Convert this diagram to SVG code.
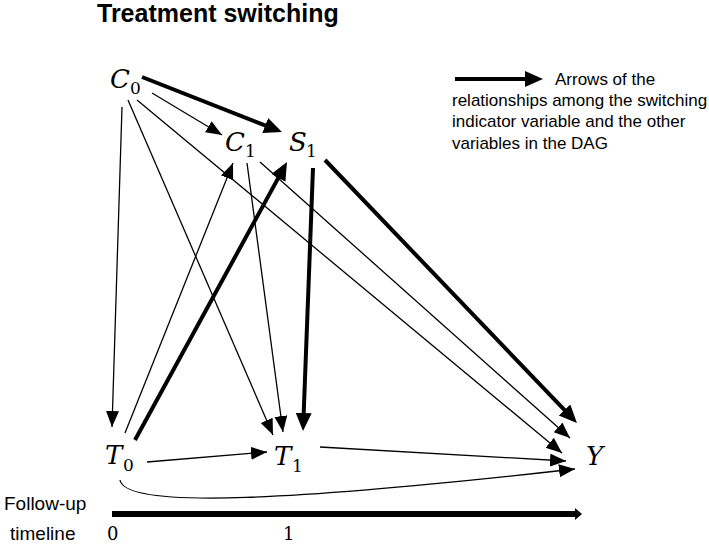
<svg xmlns="http://www.w3.org/2000/svg" width="709" height="544" viewBox="0 0 709 544">
<style>
.var{font-family:"DejaVu Serif","Liberation Serif",serif;font-style:italic;font-size:26px;fill:#000}
.sub{font-family:"DejaVu Serif","Liberation Serif",serif;font-size:17px;fill:#000}
.num{font-family:"DejaVu Serif","Liberation Serif",serif;font-size:18px;fill:#000}
.txt{font-family:"Liberation Sans",Arial,sans-serif;font-size:17px;fill:#000}
.tl{font-family:"Liberation Sans",Arial,sans-serif;font-size:19px;fill:#000}
.title{font-family:"Liberation Sans",Arial,sans-serif;font-size:25px;font-weight:bold;fill:#000}
.thin{stroke:#000;stroke-width:1.3;fill:none;marker-end:url(#ah)}
.thick{stroke:#000;stroke-width:4;fill:none;marker-end:url(#ahb)}
</style>
<defs>
<marker id="ah" markerUnits="userSpaceOnUse" markerWidth="17" markerHeight="14" refX="16" refY="6.5" orient="auto">
<path d="M0,0 L16,6.5 L0,13 z" fill="#000"/>
</marker>
<marker id="ahb" markerUnits="userSpaceOnUse" markerWidth="19" markerHeight="17" refX="13" refY="8" orient="auto">
<path d="M0,0 L18,8 L0,16 z" fill="#000"/>
</marker>
<marker id="aht" markerUnits="userSpaceOnUse" markerWidth="8" markerHeight="13" refX="1" refY="6" orient="auto">
<path d="M0,0 L7,6 L0,12 z" fill="#000"/>
</marker>
</defs>
<rect width="709" height="544" fill="#fff"/>
<text class="title" x="97" y="22">Treatment switching</text>

<g id="legend">
<line x1="455" y1="79" x2="538" y2="79" class="thick"/>
<text class="txt" x="555" y="85">Arrows of the</text>
<text class="txt" x="452" y="106">relationships among the switching</text>
<text class="txt" x="452" y="127">indicator variable and the other</text>
<text class="txt" x="452" y="149">variables in the DAG</text>
</g>

<g id="connectors">
<line x1="142" y1="77" x2="277.3" y2="130.2" class="thick"/>
<line x1="152" y1="93" x2="222" y2="135" class="thin"/>
<line x1="122" y1="107" x2="112" y2="427" class="thin"/>
<line x1="128" y1="100" x2="273" y2="435" class="thin"/>
<line x1="137" y1="100" x2="562" y2="453" class="thin"/>
<line x1="247" y1="163" x2="283" y2="432" class="thin"/>
<line x1="260" y1="162" x2="570" y2="438" class="thin"/>
<line x1="313" y1="168" x2="303.2" y2="426" class="thick"/>
<line x1="325" y1="160" x2="573.5" y2="419.4" class="thick"/>
<line x1="125" y1="433" x2="233" y2="163" class="thin"/>
<line x1="135" y1="440" x2="284.6" y2="166.4" class="thick"/>
<line x1="147" y1="462" x2="267" y2="452" class="thin"/>
<line x1="320" y1="447" x2="566" y2="461" class="thin"/>
<path d="M120,480 C125,510 300,500 575,469" class="thin"/>
</g>

<g id="C0"><text class="var" x="110" y="88">C</text><text class="sub" x="130" y="94">0</text></g>
<g id="C1"><text class="var" x="225" y="151">C</text><text class="sub" x="245" y="157">1</text></g>
<g id="S1"><text class="var" x="289" y="151">S</text><text class="sub" x="306" y="157">1</text></g>
<g id="T0"><text class="var" x="105" y="464">T</text><text class="sub" x="123" y="471">0</text></g>
<g id="T1"><text class="var" x="274" y="465">T</text><text class="sub" x="292" y="472">1</text></g>
<g id="Y"><text class="var" x="586" y="465">Y</text></g>

<g id="timeline">
<line x1="112" y1="514" x2="576" y2="514" stroke="#000" stroke-width="6" marker-end="url(#aht)"/>
<text class="tl" x="4" y="510">Follow-up</text>
<text class="tl" x="10" y="540">timeline</text>
<text class="num" x="107" y="540">0</text>
<text class="num" x="283" y="540">1</text>
</g>
</svg>
